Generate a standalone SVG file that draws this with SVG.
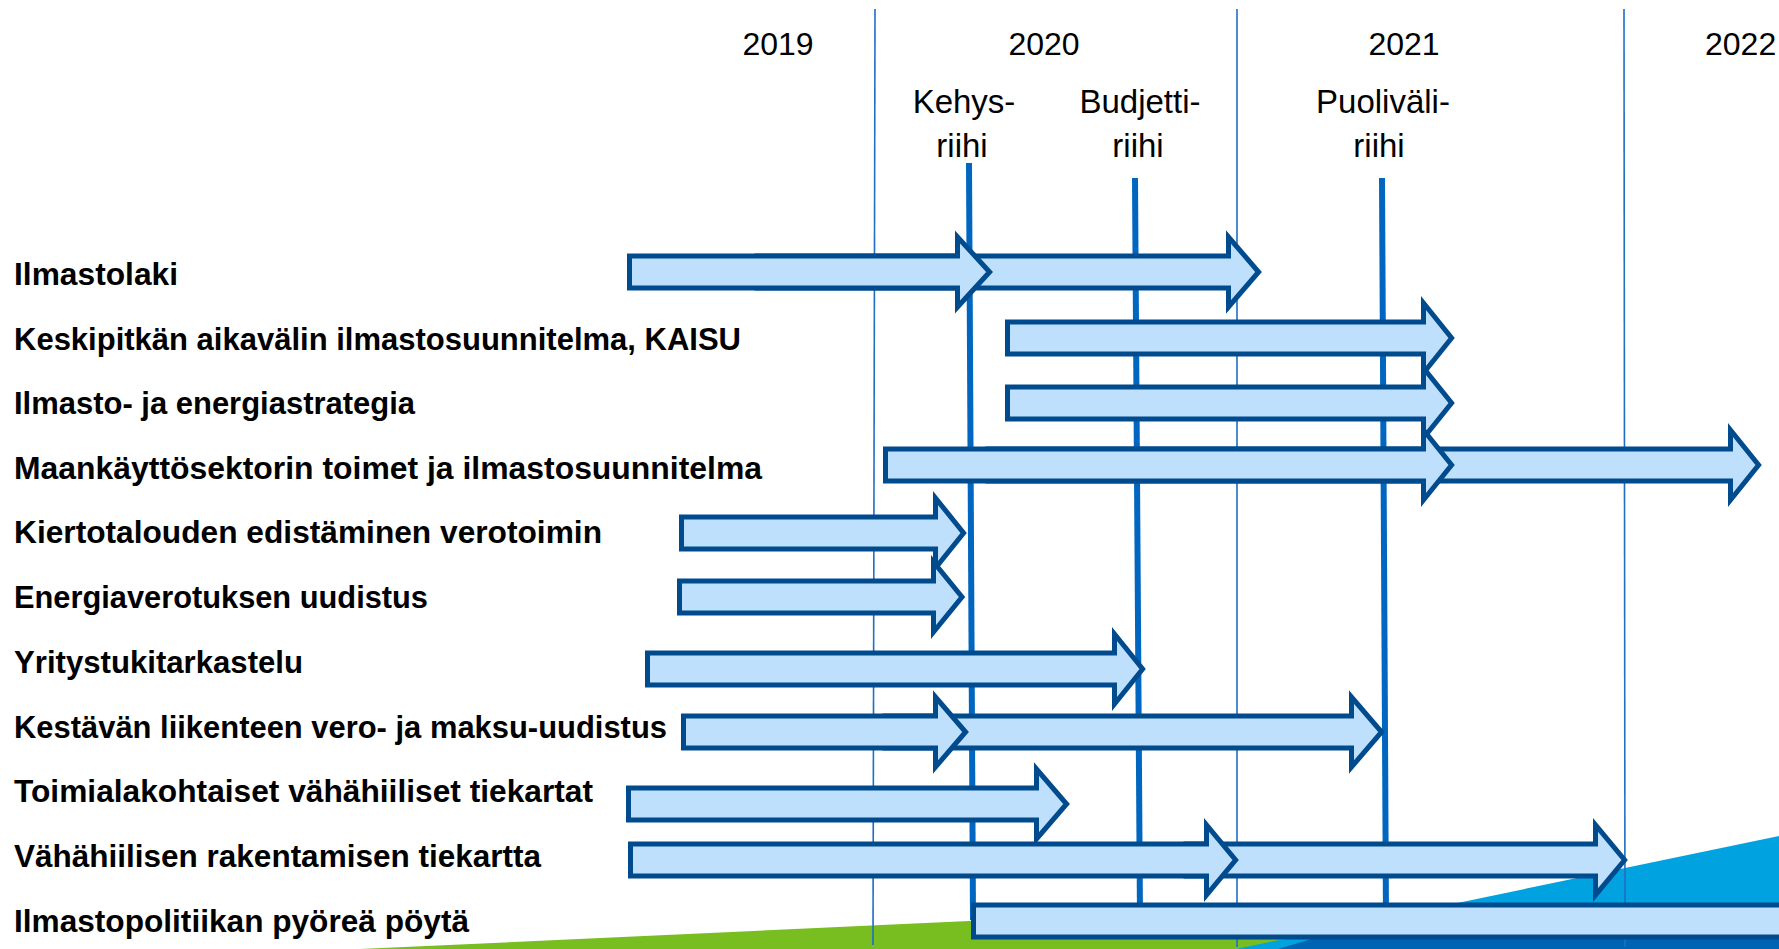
<svg xmlns="http://www.w3.org/2000/svg" width="1779" height="949" viewBox="0 0 1779 949">
<style>
.bg{fill:#ffffff}
.year{font-family:"Liberation Sans",Arial,sans-serif;font-size:32px;fill:#000;text-anchor:middle}
.ms{font-family:"Liberation Sans",Arial,sans-serif;font-size:33px;fill:#000;text-anchor:middle}
.lbl{font-family:"Liberation Sans",Arial,sans-serif;font-size:31.5px;font-weight:bold;fill:#000}
.grid{stroke:#1F6FC4;stroke-width:1.6;fill:none}
.mline{stroke:#0066BF;stroke-width:6;fill:none}
.arr{fill:#BFE0FC;stroke:#004B8D;stroke-width:5;stroke-linejoin:miter;stroke-miterlimit:10}
</style>
<rect class="bg" x="0" y="0" width="1779" height="949"/>
<g id="background">
<polygon points="360,949 1320,905 1320,949" fill="#78BE20"/>
<polygon points="1236,949 1779,836 1779,949" fill="#00A3E0"/>
<polygon points="1278,949 1325,935 1779,918 1779,949" fill="#0064B4"/>
</g>
<g id="connectors">
<line class="grid" x1="875" y1="9" x2="873" y2="945"/>
<line class="grid" x1="1237" y1="9" x2="1237" y2="947"/>
<line class="grid" x1="1624" y1="9" x2="1625" y2="947"/>
<line class="mline" x1="969" y1="163" x2="973" y2="920"/>
<line class="mline" x1="1135" y1="178" x2="1140" y2="920"/>
<line class="mline" x1="1382" y1="178" x2="1386" y2="920"/>
</g>
<g id="years">
<text class="year" x="778" y="55">2019</text>
<text class="year" x="1044" y="55">2020</text>
<text class="year" x="1404" y="55">2021</text>
<text class="year" x="1705" y="55" style="text-anchor:start">2022</text>
</g>
<g id="milestone-kehysriihi">
<text class="ms" x="964" y="113">Kehys-</text>
<text class="ms" x="962" y="157">riihi</text>
</g>
<g id="milestone-budjettiriihi">
<text class="ms" x="1140" y="113">Budjetti-</text>
<text class="ms" x="1138" y="157">riihi</text>
</g>
<g id="milestone-puolivaliriihi">
<text class="ms" x="1383" y="113">Puoliväli-</text>
<text class="ms" x="1379" y="157">riihi</text>
</g>
<g id="row-ilmastolaki">
<text class="lbl" x="14" y="285" textLength="164" lengthAdjust="spacingAndGlyphs">Ilmastolaki</text>
<path class="arr" d="M757 256 H1228.5 V237 L1258.6 272 L1228.5 307 V288 H757 Z"/>
<path class="arr" d="M629.5 256 H957.5 V237 L989.6 272 L957.5 307 V288 H629.5 Z"/>
</g>
<g id="row-kaisu">
<text class="lbl" x="14" y="350" textLength="727" lengthAdjust="spacingAndGlyphs">Keskipitkän aikavälin ilmastosuunnitelma, KAISU</text>
<path class="arr" d="M1007.5 322 H1423.5 V303 L1451.6 338 L1423.5 373 V354 H1007.5 Z"/>
</g>
<g id="row-energiastrategia">
<text class="lbl" x="14" y="414" textLength="401" lengthAdjust="spacingAndGlyphs">Ilmasto- ja energiastrategia</text>
<path class="arr" d="M1007.5 387 H1423.5 V368 L1451.6 403 L1423.5 438 V419 H1007.5 Z"/>
</g>
<g id="row-maankaytto">
<text class="lbl" x="14" y="479" textLength="748" lengthAdjust="spacingAndGlyphs">Maankäyttösektorin toimet ja ilmastosuunnitelma</text>
<path class="arr" d="M988 449 H1730.5 V430 L1758.6 465 L1730.5 500 V481 H988 Z"/>
<path class="arr" d="M885.5 449 H1423.5 V430 L1451.6 465 L1423.5 500 V481 H885.5 Z"/>
</g>
<g id="row-kiertotalous">
<text class="lbl" x="14" y="543" textLength="588" lengthAdjust="spacingAndGlyphs">Kiertotalouden edistäminen verotoimin</text>
<path class="arr" d="M681.5 517 H935.5 V498 L963.6 533 L935.5 568 V549 H681.5 Z"/>
</g>
<g id="row-energiaverotus">
<text class="lbl" x="14" y="608" textLength="414" lengthAdjust="spacingAndGlyphs">Energiaverotuksen uudistus</text>
<path class="arr" d="M679.5 581 H933.5 V562 L962 597 L933.5 632 V613 H679.5 Z"/>
</g>
<g id="row-yritystuki">
<text class="lbl" x="14" y="673" textLength="289" lengthAdjust="spacingAndGlyphs">Yritystukitarkastelu</text>
<path class="arr" d="M647.5 653 H1114.5 V634 L1142.6 669 L1114.5 704 V685 H647.5 Z"/>
</g>
<g id="row-liikenne">
<text class="lbl" x="14" y="738" textLength="653" lengthAdjust="spacingAndGlyphs">Kestävän liikenteen vero- ja maksu-uudistus</text>
<path class="arr" d="M885 716 H1351.5 V697 L1381.6 732 L1351.5 767 V748 H885 Z"/>
<path class="arr" d="M683.5 716 H935.5 V697 L965.6 732 L935.5 767 V748 H683.5 Z"/>
</g>
<g id="row-toimiala">
<text class="lbl" x="14" y="802" textLength="579" lengthAdjust="spacingAndGlyphs">Toimialakohtaiset vähähiiliset tiekartat</text>
<path class="arr" d="M628.5 788 H1036.5 V769 L1066.6 804 L1036.5 839 V820 H628.5 Z"/>
</g>
<g id="row-rakentaminen">
<text class="lbl" x="14" y="867" textLength="527" lengthAdjust="spacingAndGlyphs">Vähähiilisen rakentamisen tiekartta</text>
<path class="arr" d="M1186 844 H1595.5 V825 L1624.6 860 L1595.5 895 V876 H1186 Z"/>
<path class="arr" d="M630.5 844 H1206.5 V825 L1235.6 860 L1206.5 895 V876 H630.5 Z"/>
</g>
<g id="row-pyorea-poyta">
<text class="lbl" x="14" y="932" textLength="455" lengthAdjust="spacingAndGlyphs">Ilmastopolitiikan pyöreä pöytä</text>
<rect class="arr" x="973.5" y="905" width="830" height="32"/>
</g>
</svg>
